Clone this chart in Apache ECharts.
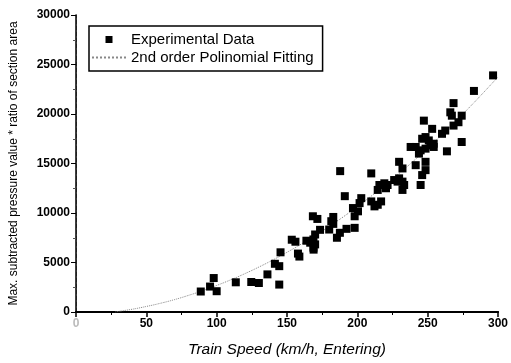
<!DOCTYPE html>
<html>
<head>
<meta charset="utf-8">
<script src="https://cdn.jsdelivr.net/npm/echarts@6/dist/echarts.min.js"></script>
<style>
html,body{margin:0;padding:0;background:#fff;}
#chart{width:511px;height:363px;}
</style>
</head>
<body>
<div id="chart"></div>
<script>
// Experimental data: train speed (km/h) and max subtracted pressure * area ratio
const speedData = [88.7,95.3,97.9,100,113.6,124.6,130,136.1,144.5,141.4,144.5,145.4,153.4,156,157.8,158.8,163.8,166.5,168.8,170,170,168.8,168.9,168.4,171.6,173.5,180,181.5,182.9,182.9,185.5,187.6,192.3,198.1,187.8,191.1,196.9,198.1,200.5,201.6,202.8,209.9,212.2,214.5,216.9,209.9,214.5,215.7,220.4,221.5,219.2,226.2,228.6,229.7,232.1,233.3,232.1,229.7,232.1,241.5,248.5,248.5,246.1,245,237.9,241.5,243.8,245,248.5,246.1,248.5,250.8,251.9,254.3,254.3,253.2,247.3,260.2,262.5,263.7,268.4,271.9,274.2,267.2,266.1,274.2,268.4,282.9,296.5];
const pressureData = [2070,2570,3430,2100,3000,3030,2930,3800,2770,4870,4630,6030,7300,7100,5900,5600,7200,7000,7330,7830,6830,6500,6300,9670,9400,8300,8330,9170,9600,8900,7500,8000,8400,8500,14230,11700,10500,9670,10170,11000,11500,11170,10670,10830,11170,14000,12330,12830,12500,12830,13000,13330,13170,13500,13170,12830,12330,15170,14500,14830,15170,14330,13830,12830,16670,16670,16000,16330,16500,17500,17670,17330,16830,16670,17000,18500,19330,18000,18330,16230,18830,19170,19830,19830,20170,17170,21100,22330,23900];
// 2nd order polynomial fitting curve
const fitSpeed = [28,30,40,50,60,70,80,90,100,110,120,130,140,150,160,170,180,190,200,210,220,230,240,250,260,270,280,290,300];
const fitPressure = [0,50,280,560,880,1250,1680,2150,2680,3250,3870,4540,5260,6030,6850,7720,8640,9610,10640,11720,12850,14030,15260,16550,17890,19280,20720,22210,23750];
const xTicks = [0,50,100,150,200,250,300];
const yTicks = [0,5000,10000,15000,20000,25000,30000];
const seriesNames = ['Experimental Data','2nd order Polinomial Fitting'];
const xTitle = 'Train Speed (km/h, Entering)';
const yTitle = 'Max. subtracted pressure value * ratio of section area';

const scatterPts = speedData.map((x,i)=>[x,pressureData[i]]);
const fitPts = fitSpeed.map((x,i)=>[x,fitPressure[i]]);
const FONT = 'Liberation Sans, Arial, sans-serif';

const chart = echarts.init(document.getElementById('chart'), null, {renderer:'canvas'});
chart.setOption({
  animation:false,
  backgroundColor:'#fff',
  grid:{left:73,right:11,top:15,bottom:48},
  legend:{
    left:89, top:26, orient:'vertical',
    borderColor:'#000', borderWidth:1.5, padding:[6,9,6,2],
    itemGap:3, itemWidth:34, itemHeight:7,
    textStyle:{fontFamily:FONT,fontSize:15,color:'#000',lineHeight:14},
    data:[
      {name:seriesNames[0],icon:'path://M0 0H10V10H0Z',itemStyle:{color:'#000',opacity:1}},
      {name:seriesNames[1],itemStyle:{color:'rgba(0,0,0,0)',borderColor:'rgba(0,0,0,0)',borderWidth:0}}
    ]
  },
  xAxis:[{
    type:'value', min:xTicks[0], max:xTicks[xTicks.length-1], interval:50,
    name:xTitle, nameLocation:'middle', nameGap:30,
    nameTextStyle:{fontFamily:FONT,fontSize:15.5,fontStyle:'italic',color:'#000'},
    axisLine:{show:true,lineStyle:{color:'#000',width:2}},
    axisTick:{show:true,length:5,lineStyle:{color:'#000',width:1.5}},
    minorTick:{show:true,splitNumber:2,length:3,lineStyle:{color:'#000'}},
    splitLine:{show:false},
    axisLabel:{fontFamily:FONT,fontSize:12,fontWeight:'bold',color:'#000',margin:6,
      formatter:v=> v===0 ? '{f|0}' : String(v), rich:{f:{color:'#bbb',fontFamily:FONT,fontSize:12}}}
  },{
    type:'value', position:'top', min:xTicks[0], max:xTicks[xTicks.length-1],
    axisLine:{show:true,lineStyle:{color:'#000',width:2}},
    axisTick:{show:false}, axisLabel:{show:false}, splitLine:{show:false}
  }],
  yAxis:[{
    type:'value', min:yTicks[0], max:yTicks[yTicks.length-1], interval:5000,
    name:yTitle, nameLocation:'middle', nameGap:56,
    nameTextStyle:{fontFamily:FONT,fontSize:12,color:'#000'},
    axisLine:{show:true,lineStyle:{color:'#777',width:1,type:'dashed'}},
    axisTick:{show:true,length:5,lineStyle:{color:'#000',width:1}},
    minorTick:{show:true,splitNumber:2,length:3,lineStyle:{color:'#555'}},
    splitLine:{show:false},
    axisLabel:{fontFamily:FONT,fontSize:12,fontWeight:'bold',color:'#000',margin:6,
      formatter:v=>String(v)}
  },{
    type:'value', position:'right', min:yTicks[0], max:yTicks[yTicks.length-1],
    axisLine:{show:true,lineStyle:{color:'#000',width:1.5}},
    axisTick:{show:false}, axisLabel:{show:false}, splitLine:{show:false}
  }],
  series:[{
    name:seriesNames[0], type:'scatter', symbol:'rect', symbolSize:8,
    itemStyle:{color:'#000',opacity:1}, data:scatterPts, z:3
  },{
    name:seriesNames[1], type:'line', smooth:true, symbol:'none', showSymbol:false,
    lineStyle:{color:'#888',width:1,type:'dotted'}, itemStyle:{color:'#888'},
    data:fitPts, z:2
  }]
});
</script>
</body>
</html>
